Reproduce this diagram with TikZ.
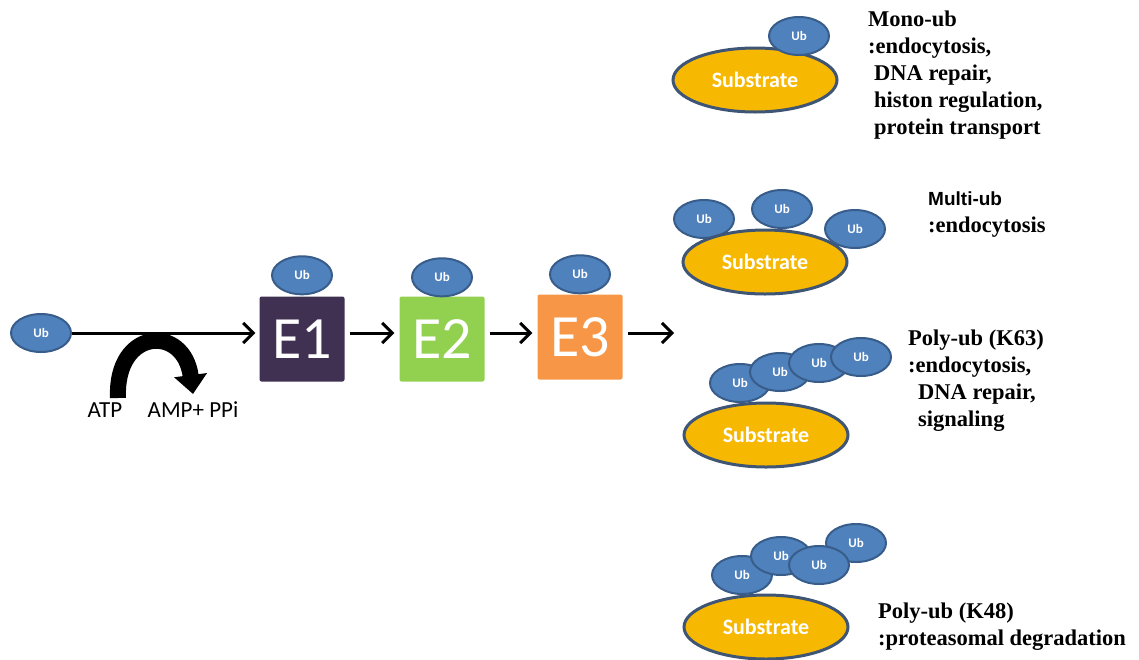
\documentclass[tikz,border=0pt]{standalone}
\usepackage{fontspec}
\setmainfont{Liberation Serif}
\setsansfont{Carlito}
\newfontfamily\arialfont{Liberation Sans}
\usepackage{xcolor}
\usepackage{tikz}
\usetikzlibrary{shapes.geometric,arrows.meta,positioning}

\definecolor{ubblue}{HTML}{4F81BD}
\definecolor{ubedge}{HTML}{385D8A}
\definecolor{subfill}{HTML}{F6B800}
\definecolor{subedge}{HTML}{3E5576}
\definecolor{eonecol}{HTML}{403152}
\definecolor{etwocol}{HTML}{92D050}
\definecolor{ethreecol}{HTML}{F79646}

\tikzset{
    ub/.style={ellipse, draw=ubedge, fill=ubblue, line width=2pt, minimum width=60pt, minimum height=38pt,
        inner sep=0pt, text=white, font=\sffamily\bfseries\fontsize{13}{15}\selectfont},
    substrate/.style={ellipse, draw=subedge, fill=subfill, line width=3pt, minimum width=164pt, minimum height=64pt,
        inner sep=0pt, text=white, font=\sffamily\bfseries\fontsize{22}{24}\selectfont},
    enzyme/.style={rounded corners=2pt, minimum size=85pt, inner sep=0pt, text=white,
        font=\sffamily\fontsize{60}{60}\selectfont},
    flow/.style={line width=3pt, -{Straight Barb[length=10pt,width=20pt]}},
    role/.style={align=left, anchor=north west, inner sep=0pt, font=\bfseries\fontsize{22.5}{27}\selectfont},
    cofactor/.style={inner sep=0pt, font=\sffamily\fontsize{23}{23}\selectfont}
}

\begin{document}
\begin{tikzpicture}[x=1pt,y=-1pt]
    \useasboundingbox (0,0) rectangle (1139,659);

    % cascade
    \node[ub] (ub0) at (41,333) {Ub};
    \node[enzyme, fill=eonecol] (e1) at (302,339) {E1};
    \node[enzyme, fill=etwocol] (e2) at (442,339) {E2};
    \node[enzyme, fill=ethreecol] (e3) at (580,337) {E3};
    \node[ub, above=1pt of e1] (ub1) {Ub};
    \node[ub, above=-1pt of e2] (ub2) {Ub};
    \node[ub, above=0pt of e3] (ub3) {Ub};
    \coordinate (out) at (674,333);

    \draw[flow, shorten >=4pt] (ub0.east) -- (e1.west |- ub0);
    \draw[flow, shorten <=5pt, shorten >=5pt] (e1.east |- ub0) -- (e2.west |- ub0);
    \draw[flow, shorten <=5pt, shorten >=5pt] (e2.east |- ub0) -- (e3.west |- ub0);
    \draw[flow, shorten <=5pt] (e3.east |- ub0) -- (out);

    % ATP -> AMP + PPi
    \coordinate (atpin) at (118,398);
    \coordinate (ampout) at (193,394);
    \draw[line width=16pt, -{Triangle[length=19pt,width=32pt]}]
        (atpin) .. controls (115,328) and (184,324) .. (ampout);
    \node[cofactor] (atp) at (105,410) {ATP};
    \node[cofactor] (amp) at (193,410) {AMP+ PPi};

    % mono-ub
    \node[substrate] (s1) at (755,80) {Substrate};
    \node[ub] (m1) at (799,36) {Ub};
    \node[role] (mono) at (868,11) {Mono-ub\\:endocytosis,\\\hspace*{6pt}DNA repair,\\
        \hspace*{6pt}histon regulation,\\\hspace*{6pt}protein transport};

    % multi-ub
    \node[ub] (mu1) at (704,219) {Ub};
    \node[ub] (mu2) at (782,209) {Ub};
    \node[substrate] (s2) at (765,262) {Substrate};
    \node[ub] (mu3) at (855,229) {Ub};
    \node[role] (multi) at (928,192) {{\arialfont\fontsize{19}{27}\selectfont Multi-ub}\\:endocytosis};

    % poly-ub K63
    \node[substrate] (s3) at (766,435) {Substrate};
    \node[ub] (k1) at (740,383) {Ub};
    \node[ub] (k2) at (780,372) {Ub};
    \node[ub] (k3) at (819,363) {Ub};
    \node[ub] (k4) at (861,357) {Ub};
    \node[role] (kss) at (908,330) {Poly-ub (K63)\\:endocytosis,\\\hspace*{10pt}DNA repair,\\
        \hspace*{10pt}signaling};

    % poly-ub K48
    \node[substrate] (s4) at (766,627) {Substrate};
    \node[ub] (d1) at (742,575) {Ub};
    \node[ub] (d2) at (781,556) {Ub};
    \node[ub] (d4) at (856,543) {Ub};
    \node[ub] (d3) at (819,565) {Ub};
    \node[role] (kfe) at (878,603) {Poly-ub (K48)\\:proteasomal degradation};
\end{tikzpicture}
\end{document}
